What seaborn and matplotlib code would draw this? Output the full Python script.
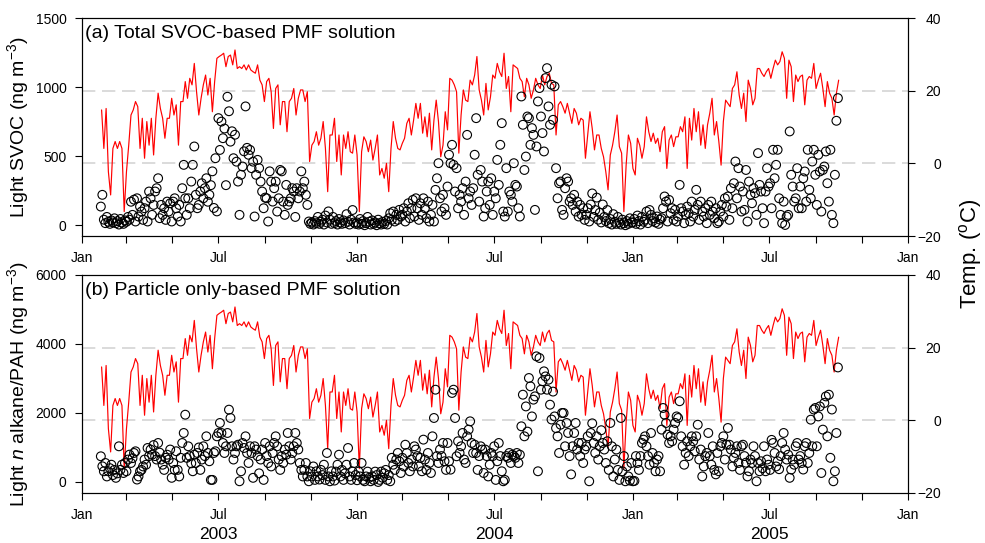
import pandas as pd
import numpy as np
import matplotlib
matplotlib.use("Agg")
import matplotlib.pyplot as plt
import matplotlib.dates as mdates
from matplotlib.ticker import FuncFormatter
import seaborn as sns

# -----------------------------
# Temperature (deg C), every 3 days from 27 Jan 2003
# -----------------------------
temp_part1 = [14.7, 4.1, 15.1, -2.3, -8.7, 4.1, 6.0, 4.1, 6.0, 4.1,
              -13.3, -2.3, 5.0, 13.3, 14.7, 17.0, 15.6, 4.1, 12.4, 1.4,
              11.5, 5.0, 12.4, 2.3, 12.4, 19.3, 15.1, 12.4, 6.9, 12.4,
              12.4, 17.9, 13.3, 16.1, 5.0, 17.0, 17.0, 22.5, 17.9, 23.4,
              21.6, 27.5, 19.7, 13.3, 17.9, 21.6, 24.3, 18.8, 23.4, 14.2,
              22.5, 28.9, 29.4, 29.8, 30.3, 26.6, 29.4, 29.8, 27.1, 31.2,
              26.1, 26.6, 26.1, 27.1, 25.7, 27.1, 25.7, 25.2, 24.8, 27.1,
              22.9, 21.6, 17.0, 22.5, 23.4, 19.7, 9.6, 20.6, 21.6, 10.6,
              17.0, 17.0, 8.7, 17.0, 17.9, 20.6, 13.3, 17.9, 20.2, 20.2,
              17.0, 19.7, 0.5, 5.0, 6.0, 8.7, 5.0, 6.9, 11.5, 4.1,
              -7.8, 7.8, 7.8, 12.4, 0.5, 7.8, -3.2, 7.8]
temp_part2 = [4.1, 8.7, 3.2, 2.8, 7.8, 2.3, -13.3, 3.2, 7.3, 6.0,
              3.2, 6.4, 0.9, 4.1, 7.8, -3.2, -1.4, -4.1, 0.0, -7.8,
              4.1, 11.5, 6.9, 4.1, 3.7, 5.5, 6.9, 11.0, 12.4, 7.8,
              11.9, 16.5, 12.4, 16.5, 8.3, 12.8, 7.3, 13.8, 3.7, 11.9,
              17.4, 11.5, 1.8, 5.0, 14.2, 9.2, 23.4, 22.9, 21.6, 19.7,
              2.8, 13.3, 20.2, 17.4, 17.0, 22.9, 21.6, 24.3, 29.4, 20.2,
              17.4, 13.3, 22.0, 14.7, 18.3, 24.3, 23.4, 27.5, 25.2, 23.9,
              30.3, 20.6, 23.9, 14.2, 27.1, 26.6, 26.1, 23.4, 22.5, 18.3,
              23.4, 21.6, 17.9, 20.2, 23.4, 21.6, 20.6, 24.3, 21.6, 23.9,
              24.8, 22.0, 21.6, 7.8, 16.1, 17.0, 15.6, 13.8, 16.5, 13.8,
              11.0, 15.1, 13.8, 10.6, 12.4, 11.9, 1.4, 7.8]
temp_part3 = [14.2, 9.6, 3.7, 7.8, 7.8, 4.1, 1.8, -2.3, -7.3, 2.3,
              5.0, 8.7, 13.3, 4.6, 2.8, -13.3, -0.5, 7.8, 5.5, -1.4,
              -3.2, 6.9, 5.0, 1.4, 4.6, 12.8, 8.7, 6.0, 8.3, 5.5,
              6.9, 3.2, 8.7, 10.1, -1.4, 6.4, 7.8, 4.6, 7.3, 7.3,
              10.1, 8.7, 12.8, -1.4, 12.4, 6.4, 15.1, 8.7, 14.2, 5.0,
              10.6, 4.1, 10.6, 13.8, 17.9, 7.8, 11.5, 6.0, -0.5, 11.5,
              17.4, 16.5, 15.6, 20.6, 21.6, 25.2, 18.8, 15.1, 19.3, 11.5,
              22.9, 20.6, 16.1, 17.9, 26.1, 26.1, 24.8, 23.9, 25.2, 26.1,
              23.4, 26.1, 28.4, 27.1, 28.0, 30.7, 28.9, 17.9, 28.4, 26.6,
              17.0, 24.3, 22.5, 23.9, 24.3, 16.1, 22.9, 23.9, 23.4, 27.5,
              20.6, 22.9, 24.8, 20.6, 15.6, 22.5, 19.3, 17.9, 13.3, 19.3,
              22.9]

# -----------------------------
# Light SVOC (ng m-3), total SVOC-based PMF, every 2 days from 26 Jan 2003
# -----------------------------
svoc_part1 = [135, 220, 40, 15, 60, 25, 10, 35, 20, 50,
              15, 30, 5, 45, 20, 10, 35, 25, 60, 40,
              170, 75, 185, 27, 195, 63, 135, 99, 39, 123,
              171, 27, 244, 195, 75, 147, 244, 268, 340, 51,
              147, 75, 123, 39, 171, 99, 159, 27, 171, 195,
              123, 63, 147, 27, 268, 437, 195, 75, 195, 123,
              316, 437, 570, 220, 123, 147, 244, 304, 195, 268,
              340, 170, 220, 290, 390, 125, 485, 100, 775, 545,
              750, 630, 700, 290, 930, 825, 605, 680, 485, 655,
              460, 316, 75, 365, 425, 535, 860, 560, 510, 545,
              413, 460, 63, 365, 473, 413, 316, 244, 123, 200,
              195, 27, 390, 316, 171, 268, 316, 99, 195, 400,
              390, 171, 75, 292, 147, 171, 195, 268, 244, 60,
              268, 195, 244, 390, 268, 316, 220, 147, 27, 10,
              20, 5, 30, 15, 60, 10, 25, 40, 5, 70,
              20, 100, 40, 10, 60, 15, 30, 5, 45, 20,
              10, 35, 15, 80, 25, 5, 40, 110, 20, 10]
svoc_part2 = [20, 5, 45, 10, 30, 0, 15, 60, 25, 5, 35, 10, 20, 0, 40, 15, 5, 25, 10, 30, 5, 50,
              87, 39, 99, 27, 75, 39, 111, 63,
              75, 123, 27, 99, 159, 51, 123, 183, 63, 195,
              123, 39, 159, 75, 195, 123, 51, 171, 27, 75,
              147, 27, 256, 340, 449, 195, 99, 220, 123, 75,
              280, 510, 449, 582, 437, 244, 413, 123, 220, 171,
              268, 75, 316, 654, 195, 244, 147, 268, 510, 775,
              365, 171, 400, 316, 63, 123, 244, 316, 147, 340,
              75, 244, 195, 473, 292, 582, 739, 99, 63, 413,
              99, 244, 220, 171, 449, 292, 280, 123, 63, 932,
              727, 400, 497, 787, 775, 582, 703, 654, 111, 570,
              896, 993, 787, 667, 534, 1065, 1137, 860, 727, 1017,
              763, 1005, 413, 195, 304, 316, 111, 75, 268, 340,
              316, 171, 195, 147, 220, 99, 171, 63, 147, 75,
              123, 39, 75, 123, 27,
              150, 230, 60, 110, 200, 40, 90, 20, 150, 60, 30, 110, 15, 45,
              5, 80, 25, 10, 60, 20, 5, 40, 15, 0, 30, 10, 50, 20]
svoc_part3 = [20, 45, 10, 70, 30, 5, 60, 25, 40, 99,
              15, 110, 75, 30, 50, 20, 63, 10, 40, 51,
              123, 208, 171, 27, 183, 87, 123, 39, 111, 27,
              63, 292, 123, 99, 15, 75, 135, 87, 27, 171,
              63, 111, 256, 147, 39, 171, 99, 63, 123, 15,
              147, 75, 171, 99, 51, 123, 15, 27, 99, 147,
              63, 195, 135, 208, 39, 268, 123, 304, 461, 195,
              413, 280, 99, 244, 111, 400, 27, 316, 220, 159,
              268, 232, 75, 522, 292, 244, 123, 15, 244, 413,
              280, 304, 123, 546, 340, 437, 546, 195, 75, 15,
              171, 2, 63, 75, 679, 365, 280, 171, 195, 413,
              123, 280, 123, 340, 389, 171, 546, 256, 195, 461,
              546, 365, 147, 510, 389, 99, 400, 425, 534, 304,
              171, 546, 75, 15, 365, 756, 920]

# -----------------------------
# Light n-alkane/PAH (ng m-3), particle only-based PMF, same days
# -----------------------------
alk_part1 = [744, 454, 309, 550, 160, 309, 400, 500, 200, 350,
             120, 250, 1034, 350, 500, 260, 550, 310, 650, 792,
             550, 690, 840, 889, 70, 160, 310, 350, 450, 650,
             500, 985, 750, 940, 790, 1070, 750, 650, 1130, 850,
             650, 500, 350, 700, 790, 650, 940, 120, 550, 350,
             890, 350, 160, 700, 1130, 1420, 1950, 700, 1034, 750,
             540, 310, 790, 550, 840, 1000, 350, 650, 1034, 750,
             1323, 840, 600, 60, 60, 840, 890, 1323, 1420, 1710,
             1420, 1130, 840, 1034, 1420, 2096, 1855, 1034, 650, 840,
             1034, 1080, 20, 309, 1130, 985, 1323, 840, 550, 1034,
             840, 120, 1034, 940, 750, 250, 650, 940, 60, 1130,
             750, 550, 1034, 450, 840, 1130, 1323, 1034, 650, 350,
             750, 550, 940, 790, 1420, 1034, 650, 840, 1034, 1420,
             1130, 940, 550, 350, 160, 350, 550, 160, 20, 309,
             160, 450, 60, 309, 160, 70, 350, 200, 500, 60,
             840, 160, 20, 309, 160, 40, 300, 500, 790, 160,
             350, 60, 250, 500, 985, 160, 60, 300, 550, 200]
alk_part2 = [50, 300, 160, 550, 60, 20, 160, 300, 120, 20, 160, 60, 300, 200, 0, 60, 300, 120,
             250, 350, 60, 200, 20,
             700, 500, 350, 650, 840, 600, 260,
             700, 450, 1080, 840, 550, 310, 650, 450, 1034, 940,
             750, 450, 700, 310, 1227, 650, 350, 840, 550, 260,
             1323, 1855, 2675, 750, 550, 940, 750, 1130, 600, 350,
             1130, 600, 357, 2580, 2675, 1855, 744, 1180, 840, 1034,
             1420, 650, 550, 1323, 1517, 1758, 1130, 840, 1080, 840,
             350, 750, 1034, 940, 260, 940, 750, 160, 500, 840,
             750, 1034, 60, 600, 1130, 750, 310, 20, 60, 750,
             700, 840, 550, 790, 750, 700, 840, 550, 790, 1613,
             2530, 1323, 2190, 1460, 3014, 2772, 1900, 2386, 2482, 3642,
             310, 3594, 2675, 2920, 3207, 3060, 2675, 2965, 2240, 1810,
             2620, 1900, 1560, 1323, 840, 1660, 2000, 2000, 1034, 1710,
             1420, 750, 220, 1034, 1420, 1710, 940, 1130, 750, 1130,
             550, 940, 1034, 1323, 20,
             1420, 1700, 1130, 840, 1323, 650, 1034, 1500, 1130, 940, 550, 1180, 350, 1710,
             1034, 160, 650, 940, 350, 60, 1855, 310, 750, 20, 450, 160, 40, 550]
alk_part3 = [20, 30, 750, 550, 350, 750, 1130, 1227, 1323, 1034,
             750, 500, 1420, 840, 550, 310, 650, 750, 310, 1517,
             2145, 1950, 1710, 1370, 1130, 1323, 1180, 1517, 1710, 1900,
             1855, 2340, 1323, 1034, 500, 840, 1180, 750, 1034, 1323,
             1180, 890, 1323, 1660, 650, 940, 160, 450, 750, 840,
             1420, 750, 500, 1034, 350, 220, 840, 310, 1034, 1130,
             1323, 650, 1080, 1565, 1080, 940, 450, 700, 840, 1034,
             550, 350, 1034, 1080, 750, 560, 160, 310, 650, 550,
             1034, 750, 20, 550, 310, 600, 400, 1034, 310, 650,
             500, 350, 1220, 1130, 840, 450, 600, 370, 750, 1130,
             1420, 940, 650, 790, 120, 360, 650, 500, 1034, 1130,
             650, 750, 550, 360, 1034, 1130, 550, 840, 1806, 1034,
             2100, 2145, 1034, 1900, 2190, 260, 1517, 2290, 2480, 1323,
             2530, 700, 2100, 20, 310, 1420, 3320]

year_labels = ["2003", "2004", "2005"]

temp = temp_part1 + temp_part2 + temp_part3
svoc = svoc_part1 + svoc_part2 + svoc_part3
alk = alk_part1 + alk_part2 + alk_part3
temp_df = pd.DataFrame({"date": pd.date_range("2003-01-27", periods=len(temp), freq="3D"),
                        "temp": temp})
conc_df = pd.DataFrame({"date": pd.date_range("2003-01-26", periods=len(svoc), freq="2D"),
                        "svoc": svoc, "alk": alk})

# -----------------------------
# Style
# -----------------------------
sns.set_style("ticks")
plt.rcParams["font.family"] = ["Liberation Sans", "DejaVu Sans"]
plt.rcParams["mathtext.fontset"] = "custom"
plt.rcParams["mathtext.rm"] = "Liberation Sans"
plt.rcParams["mathtext.it"] = "Liberation Sans:italic"
plt.rcParams["mathtext.bf"] = "Liberation Sans:bold"
plt.rcParams["axes.linewidth"] = 0.8
for key in ["text.color", "axes.labelcolor", "xtick.color", "ytick.color", "axes.edgecolor"]:
    plt.rcParams[key] = "black"

fig = plt.figure(figsize=(9.85, 5.43), dpi=100)
W, H = 985, 543

panels = [
    (236, "svoc", "(a) Total SVOC-based PMF solution", "Light SVOC (ng m$^{-3}$)",
     (-78, 1500), [0, 500, 1000, 1500]),
    (493, "alk", "(b) Particle only-based PMF solution",
     "Light $n$ alkane/PAH (ng m$^{-3}$)", (-320, 6000), [0, 2000, 4000, 6000]),
]


def month_fmt(x, pos):
    d = mdates.num2date(x)
    return d.strftime("%b") if d.month in (1, 7) else ""


for bottom_px, col, title, ylabel, ylim, yticks in panels:
    ax = fig.add_axes([82 / W, 1 - bottom_px / H, 826 / W, 218 / H])
    tw = ax.twinx()

    # temperature on right axis, with reference lines at 0 and 20 C
    for t in (0, 20):
        tw.axhline(t, color="#d4d4d4", lw=1.2, ls=(0, (8, 4)), zorder=0)
    sns.lineplot(data=temp_df, x="date", y="temp", ax=tw, color="red", lw=0.85)
    tw.set_ylim(-20, 40)
    tw.set_yticks([-20, 0, 20, 40])
    tw.set_ylabel("")
    tw.tick_params(axis="y", direction="out", length=5, width=0.8, labelsize=10, pad=19)
    for lab in tw.get_yticklabels():
        lab.set_horizontalalignment("right")

    # concentrations on left axis, drawn above the temperature line
    ax.set_zorder(tw.get_zorder() + 1)
    ax.patch.set_visible(False)
    sns.scatterplot(data=conc_df, x="date", y=col, ax=ax, marker="o", s=40,
                    facecolors="none", edgecolor="black", linewidth=0.8)
    ax.set_ylim(*ylim)
    ax.set_yticks(yticks)
    ax.set_xlim(pd.Timestamp("2003-01-01"), pd.Timestamp("2006-01-01"))
    ax.xaxis.set_major_locator(mdates.MonthLocator(bymonth=[1, 3, 5, 7, 9, 11]))
    ax.xaxis.set_major_formatter(FuncFormatter(month_fmt))
    ax.tick_params(axis="both", direction="out", length=5, width=0.8, labelsize=10)
    ax.tick_params(axis="x", pad=6)
    ax.tick_params(axis="y", pad=6)
    ax.set_xlabel("")
    ax.set_ylabel(ylabel, fontsize=14)
    ax.yaxis.set_label_coords(-0.062, 0.5)
    ax.text(0.004, 0.93, title, transform=ax.transAxes, fontsize=14,
            ha="left", va="center")
    for sp in ax.spines.values():
        sp.set_visible(True)

# year labels under the last panel
for yr in year_labels:
    ax.text(pd.Timestamp(f"{yr}-07-01"), -0.19, yr, transform=ax.get_xaxis_transform(),
            fontsize=12.5, ha="center", va="center")

fig.text(970 / W, 1 - 254 / H, "Temp. ($^{\\mathrm{o}}$C)", rotation=90,
         fontsize=16, ha="center", va="center")

fig.savefig("out.png", dpi=100)
